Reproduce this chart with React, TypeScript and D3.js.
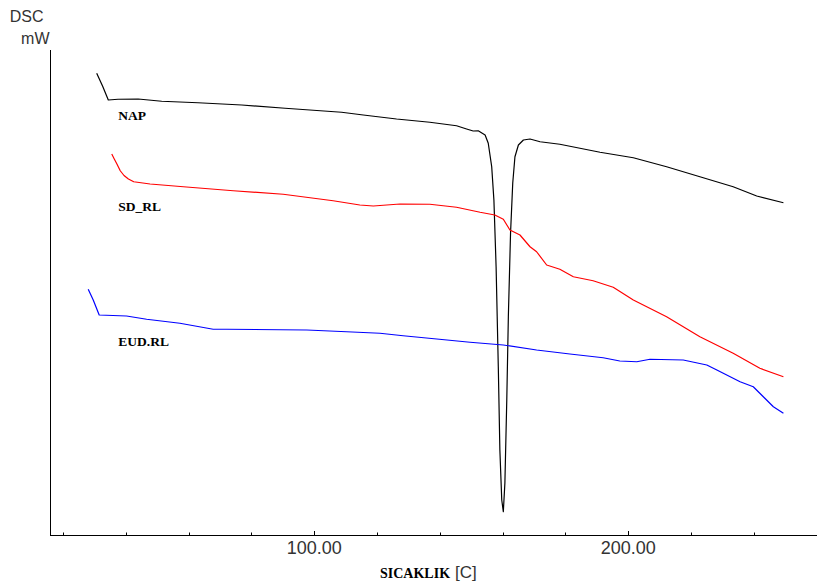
import React from "react";
import * as d3 from "d3";

// Temperature (°C) for each series
const napT = [30.7, 32.6, 34.4, 37.5, 43.9, 51.4, 62.95, 76.9, 90.7, 108.7, 115.6, 126.2, 136.8, 145.3, 148.5, 150.6, 152.2, 154.4, 155.4, 156.5, 157.2, 157.9, 158.6, 159.1, 159.7, 160.2, 160.7, 161.3, 161.8, 162.5, 163.2, 163.9, 165.0, 166.6, 168.7, 171.9, 178.2, 191.0, 201.6, 212.2, 222.8, 233.4, 240.9, 249.4];
const napMW = [9.07, 8.55, 8.0, 8.03, 8.04, 7.95, 7.89, 7.8, 7.67, 7.51, 7.4, 7.24, 7.11, 6.97, 6.84, 6.76, 6.77, 6.6, 6.27, 5.33, 4.0, 1.33, -2.67, -6.0, -8.0, -8.47, -7.32, -4.0, -0.67, 2.68, 4.68, 5.73, 6.2, 6.4, 6.44, 6.33, 6.23, 5.91, 5.69, 5.33, 4.93, 4.53, 4.16, 3.89];

const sdT = [35.5, 36.3, 37.1, 38.2, 39.4, 40.8, 42.5, 47.7, 58.3, 74.2, 90.1, 106.0, 114.5, 118.8, 127.3, 136.8, 145.3, 152.8, 157.5, 160.2, 162.3, 165.5, 168.7, 170.8, 174.0, 178.2, 182.5, 188.8, 195.2, 201.6, 212.2, 222.8, 233.4, 241.9, 249.4];
const sdMW = [5.84, 5.64, 5.45, 5.17, 4.98, 4.84, 4.73, 4.64, 4.53, 4.37, 4.23, 3.97, 3.8, 3.76, 3.84, 3.83, 3.71, 3.51, 3.4, 3.23, 2.8, 2.6, 2.13, 1.93, 1.4, 1.23, 0.93, 0.77, 0.51, 0.0, -0.67, -1.47, -2.13, -2.73, -3.07];

const eudT = [28.0, 29.6, 31.5, 40.2, 46.6, 57.2, 67.8, 72.1, 97.6, 110.3, 120.9, 128.3, 139.0, 149.6, 160.2, 170.8, 181.4, 192.0, 197.3, 202.7, 206.9, 217.5, 225.0, 228.2, 235.6, 239.8, 243.0, 246.2, 249.4];
const eudMW = [0.43, 0.0, -0.6, -0.64, -0.77, -0.93, -1.17, -1.17, -1.2, -1.27, -1.33, -1.43, -1.56, -1.69, -1.8, -2.0, -2.16, -2.31, -2.44, -2.47, -2.37, -2.4, -2.6, -2.8, -3.27, -3.47, -3.87, -4.27, -4.53];

const seriesNames = ["NAP", "SD_RL", "EUD.RL"];
const seriesColors = ["#000000", "#ff0000", "#0000ff"];
const labelAnchors = [
  { t: 37.6, v: 7.2 },
  { t: 37.6, v: 3.55 },
  { t: 37.6, v: -1.84 },
];

const minorTicks = [20, 40, 60, 80, 120, 140, 160, 180, 220, 240, 260];
const majorTicks = [100, 200];

const W = 817;
const H = 587;

export default function App() {
  const x = d3.scaleLinear().domain([15.83, 260]).range([50, 816.7]);
  const y = d3.scaleLinear().domain([-9.4, 10]).range([535, 50]);

  const line = d3
    .line<[number, number]>()
    .x((d) => x(d[0]))
    .y((d) => y(d[1]));

  const series = [
    napT.map((t, i) => [t, napMW[i]] as [number, number]),
    sdT.map((t, i) => [t, sdMW[i]] as [number, number]),
    eudT.map((t, i) => [t, eudMW[i]] as [number, number]),
  ];

  const axisY = 535.5;

  return (
    <svg
      width={W}
      height={H}
      style={{ position: "absolute", left: 0, top: 0, display: "block", background: "#fff" }}
    >
      <rect x={0} y={0} width={W} height={H} fill="#fff" />
      {/* Y axis title */}
      <text x={43.5} y={22} textAnchor="end" fontFamily="Liberation Sans, Arial, sans-serif" fontSize={16} fill="#333">
        DSC
      </text>
      <text x={49.5} y={43.5} textAnchor="end" fontFamily="Liberation Sans, Arial, sans-serif" fontSize={16} fill="#333">
        mW
      </text>

      {/* axes */}
      <line x1={50.5} x2={50.5} y1={50} y2={536} stroke="#000" strokeWidth={1} />
      <line x1={50} x2={W} y1={axisY} y2={axisY} stroke="#000" strokeWidth={1} />
      {minorTicks.map((t) => (
        <line key={"mi" + t} x1={Math.round(x(t)) + 0.5} x2={Math.round(x(t)) + 0.5} y1={axisY} y2={axisY - 3} stroke="#000" strokeWidth={1} />
      ))}
      {majorTicks.map((t) => (
        <g key={"ma" + t}>
          <line x1={Math.round(x(t)) + 0.5} x2={Math.round(x(t)) + 0.5} y1={axisY} y2={axisY - 4.5} stroke="#000" strokeWidth={1} />
          <text x={x(t)} y={554} textAnchor="middle" fontFamily="Liberation Sans, Arial, sans-serif" fontSize={18} fill="#333">
            {d3.format(".2f")(t)}
          </text>
        </g>
      ))}

      {/* X axis title */}
      <text x={380} y={578} fontFamily="Liberation Serif, Times New Roman, serif" fontWeight="bold" fontSize={14} fill="#000">
        SICAKLIK
        <tspan fontFamily="Liberation Sans, Arial, sans-serif" fontWeight="normal" fontSize={17} fill="#333" dx={5}>
          [C]
        </tspan>
      </text>

      {/* curves */}
      {series.map((s, i) => (
        <path key={seriesNames[i]} d={line(s) || ""} fill="none" stroke={seriesColors[i]} strokeWidth={1.2} strokeLinejoin="round" />
      ))}

      {/* curve labels */}
      {seriesNames.map((n, i) => (
        <text
          key={"l" + n}
          x={x(labelAnchors[i].t)}
          y={y(labelAnchors[i].v)}
          fontFamily="Liberation Serif, Times New Roman, serif"
          fontWeight="bold"
          fontSize={13.5}
          fill="#000"
        >
          {n}
        </text>
      ))}
    </svg>
  );
}
